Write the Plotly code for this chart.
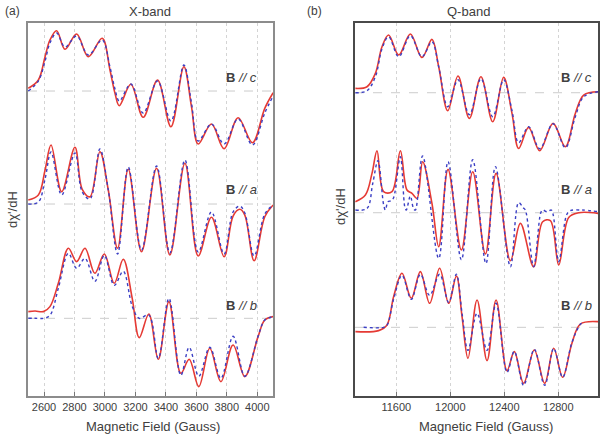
import plotly.graph_objects as go

# ---------------- Panel (a): X-band ----------------
xa_c_field = [2497, 2563, 2607, 2639, 2683, 2738, 2814, 2891, 2982, 3033, 3066, 3094, 3170,
              3251, 3345, 3433, 3518, 3568, 3612, 3699, 3782, 3874, 3968, 4049, 4104]
xa_c_fit = [2.7, 11, 34.3, 51, 60.3, 41.7, 57, 34.3, 52.7, 21, -2.3, -14.7, 6.7,
            -26.3, 11, -35.7, 24.3, -15.7, -53, -33, -57.7, -26.7, -51.7, -17.3, -1.7]
xa_c_exp = [0, 10, 30, 48, 58, 44, 55, 36, 51, 24, 2, -10, 7,
            -22, 10, -30, 26, -12, -50, -33, -53, -28, -54, -22, -5]

xa_a_field = [2497, 2563, 2607, 2646, 2716, 2803, 2851, 2902, 2967, 3022, 3083, 3153, 3240,
              3339, 3426, 3525, 3612, 3699, 3782, 3841, 3885, 3918, 3979, 4049, 4104]
xa_a_fit = [4, 9, 34, 59, 12.3, 56.7, 14.7, 7.3, 52.3, 14, -44.3, 34.7, -47.7,
            35.7, -51, 40.7, -52, -13.3, -52.7, -12, -5.3, -11, -56.7, -12.7, -1]
xa_a_exp = [0, 2, 25, 52, 9, 51, 12, 5, 55, 14, -50, 37, -46,
            38, -49, 44, -48, -8, -50, -8, -2, -9, -52, -10, -1]

xa_b_field = [2497, 2541, 2596, 2639, 2694, 2760, 2814, 2869, 2934, 2996, 3061, 3120, 3179,
              3225, 3288, 3350, 3420, 3498, 3553, 3616, 3688, 3761, 3841, 3918, 4005, 4049, 4104]
xa_b_fit = [6.7, 7.3, 6.7, 11.7, 35, 70, 56.7, 70, 45, 64.3, 35, 59, 20,
            -19.3, 4.3, -41, 16.7, -55, -41, -68.3, -30, -63.3, -26.7, -58.3, -18.3, -1.7, 1.7]
xa_b_exp = [0, 0, 0, 3, 30, 65, 50, 60, 37, 63, 33, 47, 12,
            0, 3.3, -40, 20, -57, -29, -58, -29, -60, -18, -58, -18, -1.7, 1.7]

# ---------------- Panel (b): Q-band ----------------
qb_c_field = [11297, 11383, 11445, 11494, 11543, 11618, 11704, 11790, 11864, 11914, 11981, 12057, 12141,
              12227, 12314, 12395, 12457, 12506, 12580, 12662, 12761, 12852, 12926, 12988, 13095]
qb_c_fit = [4.3, 6, 19.3, 46, 57.7, 37.7, 58.7, 35.3, 53.3, 26, -18, 16.7, -25.7,
            16, -29, 15.3, -20.7, -55.7, -34.7, -58, -30.7, -54, -20.7, -2.3, 1]
qb_c_exp = [0, 2, 16, 44, 56, 36, 57, 36, 51, 26, -14, 13, -22,
            14, -24, 13, -18, -50, -34, -56, -31, -55, -24, -4, 1]

qb_a_fit_field = [11297, 11371, 11420, 11457, 11506, 11568, 11630, 11679, 11716, 11753, 11795, 11864, 11914,
                  11983, 12082, 12166, 12260, 12339, 12445, 12519, 12617, 12684, 12741, 12803, 12877, 12951, 13095]
qb_a_fit = [11, 17.7, 39.3, 62, 21, 21, 62, 22.7, 19.3, 14.3, 51, 9.3, -34,
            43.3, -37.3, 41, -41.3, 39.3, -48, -10.7, -54, -9, -8, -52.3, -4.7, 0, -0.7]
qb_a_exp_field = [11297, 11383, 11425, 11464, 11506, 11519, 11538, 11562, 11580, 11630, 11664, 11674,
                  11704, 11728, 11741, 11795, 11914,
                  11983, 12082, 12166, 12264, 12334, 12445, 12506, 12540, 12556, 12617, 12670, 12684,
                  12716, 12748, 12762, 12803, 12862, 12889, 12975, 13095]
qb_a_exp = [2.7, 4.3, 29, 52, 8, 2.7, 11, 12, 15, 56, 5, 2.7,
            16.7, 4, 2.7, 56.7, -45.7,
            51, -47, 53, -50.7, 46, -54, 10, 5, 2.7, -54, 0, 2.7,
            1, 2.7, -2, -49, -2, 2, 2.7, 1]

qb_b_fit_field = [11297, 11469, 11531, 11580, 11642, 11711, 11778, 11847, 11921, 11988, 12045, 12087, 12131,
                  12198, 12272, 12339, 12420, 12474, 12543, 12622, 12699, 12766, 12832, 12901, 12963, 13095]
qb_b_fit = [-4.3, -3.3, 2.3, 30.7, 54, 29, 55.7, 24, 59, 24, 51.3, 10.7, -31,
            27.3, -33.3, 27.3, -43.3, -24.3, -56, -22.7, -56, -21, -50, -16, 3.3, 5.7]
qb_b_exp_field = [11358, 11506, 11531, 11580, 11642, 11711, 11778, 11847, 11921, 11988, 12045, 12087, 12131,
                  12198, 12272, 12339, 12420, 12474, 12543, 12622, 12699, 12766, 12832, 12901, 12963, 12975]
qb_b_exp = [0, 0, 2, 28, 52, 28, 53, 32, 53, 25, 53, 14, -23,
            14, -23, 24, -45, -24, -58, -22, -58, -21, -50, -15, 3, 4]

# vertical offsets of the three stacked spectra (plot units)
OFF_A = {"c": 305, "a": 192, "b": 77.7}
OFF_B = {"c": 303.3, "a": 183.3, "b": 68.7}

RED = "#e53a34"
BLUE = "#3b3fc4"

fig = go.Figure()


def add_pair(fx, fit, ex, exp, off, xa, ya):
    fig.add_trace(go.Scatter(x=fx, y=[v + off for v in fit], mode="lines",
                             line=dict(color=RED, width=1.6, shape="spline", smoothing=1.0),
                             xaxis=xa, yaxis=ya, showlegend=False, hoverinfo="skip"))
    fig.add_trace(go.Scatter(x=ex, y=[v + off for v in exp], mode="lines",
                             line=dict(color=BLUE, width=1.4, dash="dot", shape="spline", smoothing=1.0),
                             xaxis=xa, yaxis=ya, showlegend=False, hoverinfo="skip"))


add_pair(xa_c_field, xa_c_fit, xa_c_field, xa_c_exp, OFF_A["c"], "x", "y")
add_pair(xa_a_field, xa_a_fit, xa_a_field, xa_a_exp, OFF_A["a"], "x", "y")
add_pair(xa_b_field, xa_b_fit, xa_b_field, xa_b_exp, OFF_A["b"], "x", "y")
add_pair(qb_c_field, qb_c_fit, qb_c_field, qb_c_exp, OFF_B["c"], "x2", "y2")
add_pair(qb_a_fit_field, qb_a_fit, qb_a_exp_field, qb_a_exp, OFF_B["a"], "x2", "y2")
add_pair(qb_b_fit_field, qb_b_fit, qb_b_exp_field, qb_b_exp, OFF_B["b"], "x2", "y2")

shapes = []
for off in OFF_A.values():
    shapes.append(dict(type="line", xref="x domain", yref="y", x0=0, x1=1, y0=off, y1=off,
                       line=dict(color="#cccccc", width=1, dash="dash"), layer="below"))
for off in OFF_B.values():
    shapes.append(dict(type="line", xref="x2 domain", yref="y2", x0=0, x1=1, y0=off, y1=off,
                       line=dict(color="#cccccc", width=1, dash="dash"), layer="below"))

TXT = "#404040"
FONT = "Liberation Sans, Arial, sans-serif"

common_x = dict(showline=True, mirror=True, ticks="inside", ticklen=4, tickcolor="#777",
                showgrid=True, gridcolor="#d4d4d4", griddash="dot", gridwidth=1,
                tickfont=dict(size=11, color=TXT, family=FONT), zeroline=False,
                automargin=False, tickformat="d")
common_y = dict(showline=True, mirror=True, showticklabels=False, ticks="", showgrid=False,
                zeroline=False, range=[0, 373], automargin=False)

fig.update_layout(
    width=600, height=436, margin=dict(l=0, r=0, t=0, b=0, pad=0, autoexpand=False),
    paper_bgcolor="white", plot_bgcolor="white",
    font=dict(family=FONT, color=TXT),
    xaxis=dict(domain=[0.04667, 0.455], range=[2495, 4103], tick0=2600, dtick=200,
               linecolor="#8c8c8c", linewidth=1.5, anchor="y", **common_x),
    yaxis=dict(domain=[0.0917, 0.9472], linecolor="#8c8c8c", linewidth=1.5, anchor="x", **common_y),
    xaxis2=dict(domain=[0.59167, 0.99667], range=[11294, 13094], tick0=11600, dtick=400,
                linecolor="#4a4a4a", linewidth=1.5, anchor="y2", **common_x),
    yaxis2=dict(domain=[0.0917, 0.9472], linecolor="#4a4a4a", linewidth=1.5, anchor="x2", **common_y),
    shapes=shapes,
)

ann = []


def A(x, y, text, size=12, angle=0, xanchor="center"):
    ann.append(dict(x=x, y=y, xref="paper", yref="paper", text=text, showarrow=False,
                    font=dict(size=size, color=TXT, family=FONT), textangle=angle,
                    xanchor=xanchor, yanchor="middle"))


def py(p):
    return 1 - p / 436


A(3 / 600, py(11), "(a)", 12, xanchor="left")
A(150 / 600, py(11), "X-band", 13)
A(305 / 600, py(11), "(b)", 12, xanchor="left")
A(468 / 600, py(11), "Q-band", 13)
A(153 / 600, py(426), "Magnetic Field (Gauss)", 13)
A(486 / 600, py(426), "Magnetic Field (Gauss)", 13)
A(12 / 600, py(210), "dχ'/dH", 13, angle=-90)
A(340 / 600, py(207), "dχ'/dH", 13, angle=-90)

lab = {"c": 77, "a": 190, "b": 305}
for k, yv in lab.items():
    t = "<b>B</b> <i>// %s</i>" % k
    A(241 / 600, py(yv), t, 13)
    A(576 / 600, py(yv), t, 13)

fig.update_layout(annotations=ann)

fig.write_html("out.html", config={"displayModeBar": False},
               post_script="document.body.style.margin='0';document.body.style.padding='0';")
